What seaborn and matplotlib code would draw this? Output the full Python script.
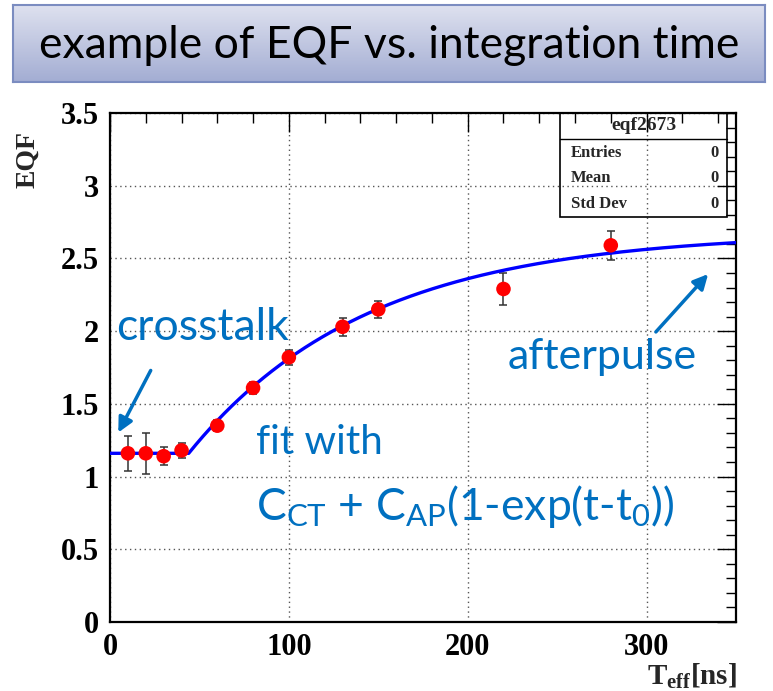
import numpy as np
import pandas as pd
import matplotlib
matplotlib.use("Agg")
import matplotlib.pyplot as plt
from matplotlib.patches import FancyArrowPatch, Rectangle
from matplotlib.lines import Line2D
import seaborn as sns

# Measured EQF points
t_ns = [10, 20, 30, 40, 60, 80, 100, 130, 150, 220, 280]
eqf = [1.16, 1.16, 1.14, 1.18, 1.35, 1.61, 1.82, 2.03, 2.15, 2.29, 2.59]
eqf_err = [0.12, 0.14, 0.06, 0.05, 0.04, 0.04, 0.05, 0.06, 0.06, 0.11, 0.10]

# Fit parameters: C_CT + C_AP * (1 - exp(-(t - t0)/tau)) for t > t0
C_CT = 1.16
C_AP = 1.52
T0 = 44.0
TAU = 100.0

x_ticks = [0, 100, 200, 300]
y_ticks = [0, 0.5, 1, 1.5, 2, 2.5, 3, 3.5]
y_tick_labels = ["0", "0.5", "1", "1.5", "2", "2.5", "3", "3.5"]

sns.set_theme(style="white")
plt.rcParams["mathtext.fontset"] = "custom"
plt.rcParams["mathtext.rm"] = "Lato"
plt.rcParams["mathtext.bf"] = "Liberation Serif:bold"
plt.rcParams["mathtext.it"] = "Lato:italic"

W, H = 773, 691
fig = plt.figure(figsize=(W / 100, H / 100), dpi=100)
fig.patch.set_facecolor("white")


def fx(px):
    return px / W


def fy(py):
    return 1 - py / H


# ---- banner title ----
bax = fig.add_axes([fx(13), fy(82), fx(765) - fx(13), fy(5) - fy(82)])
grad = np.linspace(0, 1, 100).reshape(-1, 1)
top_c = np.array([0xde, 0xe1, 0xef]) / 255
bot_c = np.array([0xa3, 0xad, 0xd3]) / 255
img = top_c[None, None, :] * (1 - grad[:, :, None]) + bot_c[None, None, :] * grad[:, :, None]
bax.imshow(img, aspect="auto", extent=[0, 1, 0, 1])
bax.set_xticks([])
bax.set_yticks([])
for s in bax.spines.values():
    s.set_color("#7b8cc0")
    s.set_linewidth(1.5)
bax.text(0.5, 0.47, "example of EQF vs. integration time", ha="center", va="center",
         fontsize=32, family="Lato", color="black", transform=bax.transAxes)

# ---- main plot ----
ax = fig.add_axes([fx(110), fy(622), fx(736) - fx(110), fy(113) - fy(622)])
ax.set_facecolor("white")

tt = np.linspace(0, 350, 701)
fit = np.where(tt > T0, C_CT + C_AP * (1 - np.exp(-(tt - T0) / TAU)), C_CT)
fit_df = pd.DataFrame({"t": tt, "eqf": fit})
pts_df = pd.DataFrame({"t": t_ns, "eqf": eqf, "err": eqf_err})

ax.errorbar(pts_df["t"], pts_df["eqf"], yerr=pts_df["err"], fmt="none",
            ecolor="#333333", elinewidth=1.1, capsize=3, capthick=1.1, zorder=3)
sns.lineplot(data=fit_df, x="t", y="eqf", ax=ax, color="#0000ff", linewidth=2.4,
             zorder=4, legend=False)
sns.scatterplot(data=pts_df, x="t", y="eqf", ax=ax, color="#ff0000", s=110,
                edgecolor="none", zorder=5, legend=False)

ax.set_xlim(0, 350)
ax.set_ylim(0, 3.5)
ax.set_xticks(x_ticks)
ax.set_xticklabels([str(v) for v in x_ticks])
ax.set_xticks(np.arange(0, 351, 20), minor=True)
ax.set_yticks(y_ticks)
ax.set_yticklabels(y_tick_labels)
ax.set_yticks(np.arange(0, 3.51, 0.1), minor=True)
ax.set_xlabel("")
ax.set_ylabel("")
ax.grid(True, which="major", linestyle=(0, (1, 2.5)), color="#555555", linewidth=1.0)
ax.tick_params(which="both", direction="in", top=True, right=True, colors="black",
               labelsize=22, pad=8)
ax.tick_params(which="major", length=14, width=1.0)
ax.tick_params(which="minor", length=7, width=1.0)
for lab in ax.get_xticklabels() + ax.get_yticklabels():
    lab.set_family("Liberation Serif")
    lab.set_fontweight("bold")
for s in ax.spines.values():
    s.set_color("black")
    s.set_linewidth(1.6)
# y tick label at 0 sits slightly above the x-axis "0"
ax.get_yticklabels()[0].set_y(0.03)

fig.text(fx(28), fy(160), "EQF", rotation=90, ha="center", va="center",
         family="Liberation Serif", fontweight="bold", fontsize=20)
fig.text(fx(737), fy(676), r"T$_{\mathbf{eff}}$[ns]", ha="right", va="center",
         family="Liberation Serif", fontweight="bold", fontsize=21)

# ---- stats box ----
bx0, bx1, by0, by1 = 560, 727, 113, 217
fig.patches.append(Rectangle((fx(bx0), fy(by1)), fx(bx1) - fx(bx0), fy(by0) - fy(by1),
                             transform=fig.transFigure, fill=False, edgecolor="black",
                             linewidth=1.2, zorder=10))
fig.lines.append(Line2D([fx(bx0), fx(bx1)], [fy(139), fy(139)], transform=fig.transFigure,
                        color="black", linewidth=1.0, zorder=10))
stat_kw = dict(family="Liberation Serif", fontweight="bold", fontsize=12, va="center")
fig.text(fx((bx0 + bx1) / 2), fy(126), "eqf2673", ha="center",
         **{**stat_kw, "fontsize": 14})
for label, val, yy in [("Entries", "0", 153), ("Mean", "0", 178), ("Std Dev", "0", 204)]:
    fig.text(fx(571), fy(yy), label, ha="left", **stat_kw)
    fig.text(fx(719), fy(yy), val, ha="right", **stat_kw)

# ---- annotations ----
blue = "#0070c0"
fig.text(fx(116), fy(327), "crosstalk", ha="left", va="center", family="Lato",
         fontsize=32, color=blue)
fig.text(fx(508), fy(357), "afterpulse", ha="left", va="center", family="Lato",
         fontsize=31, color=blue)
fig.text(fx(256), fy(443), "fit with", ha="left", va="center", family="Lato",
         fontsize=29, color=blue)
fig.text(fx(256), fy(506), r"C$_{\rm CT}$ + C$_{\rm AP}$(1-exp(t-t$_{\rm 0}$))",
         ha="left", va="center", family="Lato", fontsize=32, color=blue)

for (x0, y0), (x1, y1) in [((152, 368), (117, 435)), ((654, 334), (710, 272))]:
    fig.patches.append(FancyArrowPatch((fx(x0), fy(y0)), (fx(x1), fy(y1)),
                                       transform=fig.transFigure, arrowstyle="-|>",
                                       mutation_scale=22, color=blue, linewidth=2.5,
                                       zorder=12))

fig.savefig("out.png", dpi=100)
